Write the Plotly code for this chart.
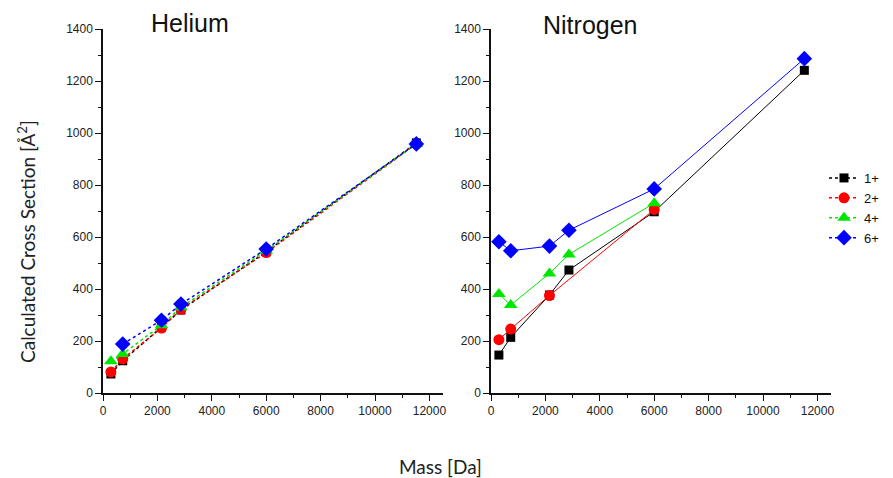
import plotly.graph_objects as go

# Ion masses (Da)
mass = [290, 725, 2150, 2865, 6000, 11520]

# Helium cross sections (Å²) per charge state
he_1 = [73, 124, 253, 319, 543, 962]
he_2 = [81, 131, 250, 322, 540, 958]
he_4 = [122, 150, 261, 330, 548, 958]
he_6_mass = [725, 2150, 2865, 6000, 11520]
he_6 = [188, 280, 342, 554, 958]

# Nitrogen cross sections (Å²) per charge state
n2_1 = [146, 214, 377, 473, 697, 1241]
n2_2_mass = [290, 725, 2150, 6000]
n2_2 = [205, 246, 375, 706]
n2_4_mass = [290, 725, 2150, 2865, 6000]
n2_4 = [381, 338, 460, 533, 730]
n2_6 = [582, 547, 565, 626, 785, 1286]

labels = ["1+", "2+", "4+", "6+"]
colors = ["#000000", "#ff0000", "#00e600", "#0000ff"]
symbols = ["square", "circle", "triangle-up", "diamond"]
sizes = [9, 11, 12, 12]

W, H = 893, 478

fig = go.Figure()

helium = [(mass, he_1), (mass, he_2), (mass, he_4), (he_6_mass, he_6)]
nitrogen = [(mass, n2_1), (n2_2_mass, n2_2), (n2_4_mass, n2_4), (mass, n2_6)]

for i, (xs, ys) in enumerate(helium):
    fig.add_trace(go.Scatter(
        x=xs, y=ys, name=labels[i], mode="lines+markers",
        line=dict(color=colors[i], width=1.5, dash="dot"),
        marker=dict(symbol=symbols[i], size=sizes[i], color=colors[i]),
        xaxis="x", yaxis="y", cliponaxis=False))

for i, (xs, ys) in enumerate(nitrogen):
    fig.add_trace(go.Scatter(
        x=xs, y=ys, name=labels[i], mode="lines+markers", showlegend=False,
        line=dict(color=colors[i], width=1),
        marker=dict(symbol=symbols[i], size=sizes[i], color=colors[i]),
        xaxis="x2", yaxis="y2", cliponaxis=False))

tick_font = dict(family="Liberation Sans, Arial, sans-serif", size=12, color="#222")

def xaxis_cfg(x0, x1, anchor):
    return dict(domain=[x0 / W, x1 / W], range=[0, 12500], anchor=anchor,
                dtick=2000, tick0=0, tickformat="d", automargin=False,
                showline=True, linecolor="#111", linewidth=1.5,
                ticks="outside", ticklen=6, tickwidth=1.2, tickcolor="#111",
                minor=dict(ticks="outside", ticklen=3, dtick=1000, tickcolor="#111"),
                showgrid=False, zeroline=False, tickfont=tick_font)

def yaxis_cfg(anchor):
    return dict(domain=[1 - 393 / H, 1 - 29 / H], range=[0, 1400], anchor=anchor,
                dtick=200, tick0=0, tickformat="d", automargin=False,
                showline=True, linecolor="#111", linewidth=1.5,
                ticks="outside", ticklen=6, tickwidth=1.2, tickcolor="#111",
                minor=dict(ticks="outside", ticklen=3, dtick=100, tickcolor="#111"),
                showgrid=False, zeroline=False, tickfont=tick_font)

fig.update_layout(
    width=W, height=H,
    margin=dict(l=0, r=0, t=0, b=0, pad=0, autoexpand=False),
    paper_bgcolor="white", plot_bgcolor="white",
    xaxis=xaxis_cfg(103, 443, "y"),
    yaxis=yaxis_cfg("x"),
    xaxis2=xaxis_cfg(491, 831, "y2"),
    yaxis2=yaxis_cfg("x2"),
    showlegend=True,
    legend=dict(x=824 / W, y=1 - 163 / H, xanchor="left", yanchor="top",
                font=dict(family="Liberation Sans, Arial, sans-serif", size=13, color="#111"),
                bgcolor="rgba(0,0,0,0)", tracegroupgap=0, itemwidth=30),
    annotations=[
        dict(text="Helium", x=190 / W, y=1 - 23 / H, xref="paper", yref="paper",
             xanchor="center", yanchor="middle", showarrow=False,
             font=dict(family="Liberation Sans, Arial, sans-serif", size=25, color="#111")),
        dict(text="Nitrogen", x=590 / W, y=1 - 25 / H, xref="paper", yref="paper",
             xanchor="center", yanchor="middle", showarrow=False,
             font=dict(family="Liberation Sans, Arial, sans-serif", size=25, color="#111")),
        dict(text="Calculated Cross Section [Å<sup>2</sup>]", x=26 / W, y=1 - 242 / H,
             xref="paper", yref="paper", xanchor="center", yanchor="middle",
             textangle=-90, showarrow=False,
             font=dict(family="Lato, Open Sans, sans-serif", size=19, color="#222")),
        dict(text="Mass [Da]", x=440 / W, y=1 - 466 / H, xref="paper", yref="paper",
             xanchor="center", yanchor="middle", showarrow=False,
             font=dict(family="Lato, Open Sans, sans-serif", size=19, color="#222")),
    ],
)

fig.write_html("out.html")
